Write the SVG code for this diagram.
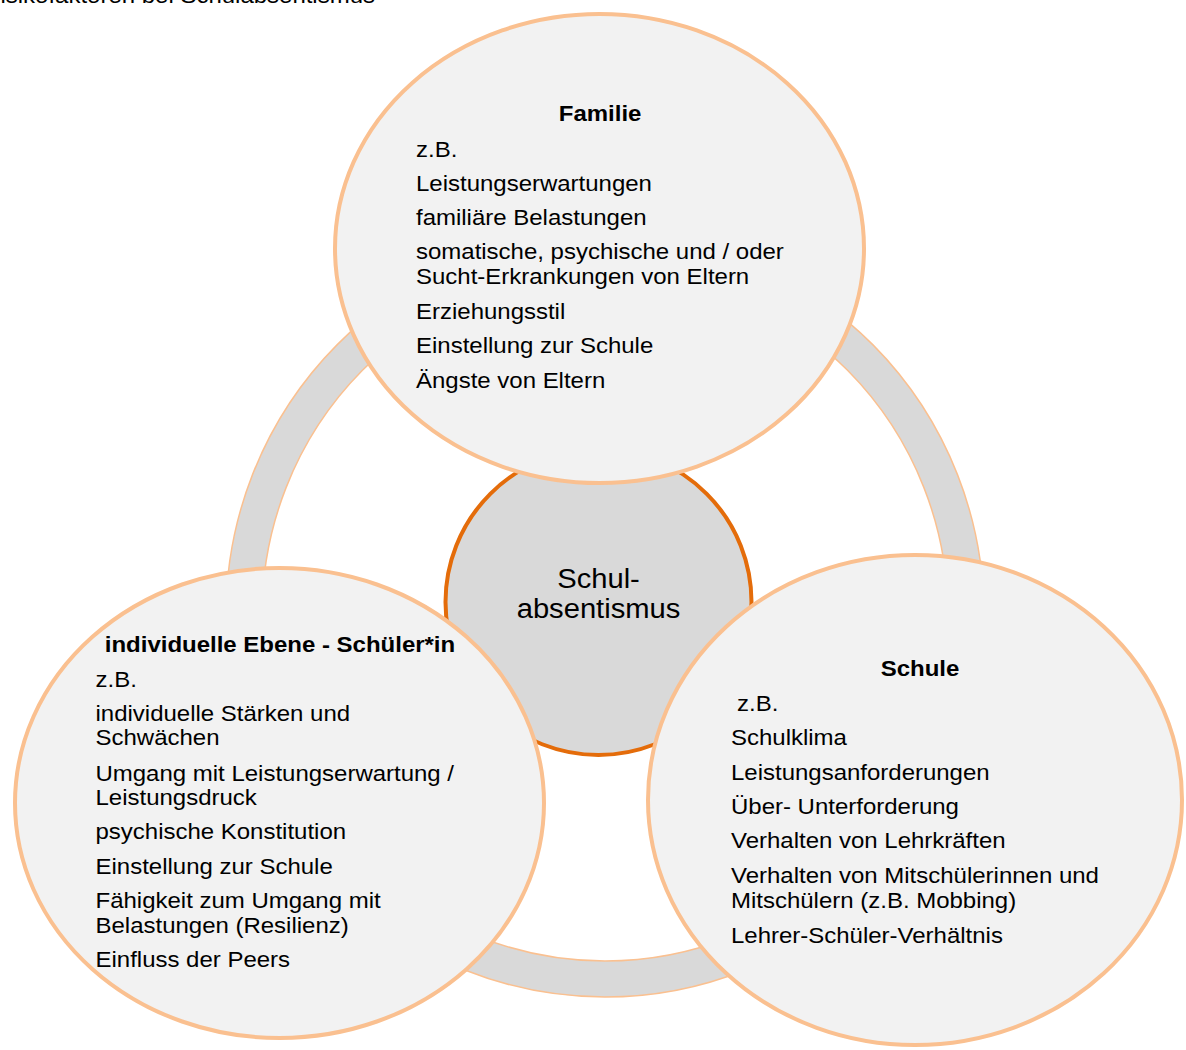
<svg xmlns="http://www.w3.org/2000/svg" width="1186" height="1050" viewBox="0 0 1186 1050">
<style>
.bg{fill:#ffffff}
.ring{fill:#D9D9D9;fill-rule:evenodd;stroke:#FAC090;stroke-width:1.5}
.outer{fill:#F2F2F2;stroke:#FAC090;stroke-width:4}
.core{fill:#D9D9D9;stroke:#E46C0A;stroke-width:4}
text{font-family:"Liberation Sans",Arial,sans-serif;fill:#000000}
.t{font-size:21.5px}
.h{font-size:21.5px;font-weight:bold;text-anchor:middle}
.c{font-size:27px;text-anchor:middle}
</style>
<rect class="bg" x="0" y="0" width="1186" height="1050"/>
<g id="title">
<text class="t" transform="translate(375 3) scale(1.116 1)" text-anchor="end" x="0" y="0">Risikofaktoren bei Schulabsentismus</text>
</g>
<g id="connectors">
<path class="ring" d="M226,615 A379,382 0 1 0 984,615 A379,382 0 1 0 226,615 Z M262,615 A343,346 0 1 0 948,615 A343,346 0 1 0 262,615 Z"/>
</g>
<g id="node-center">
<circle class="core" cx="598.5" cy="602" r="153"/>
<g transform="translate(598.5 0) scale(1.08 1)">
<text class="c" x="0" y="588">Schul-</text>
<text class="c" x="0" y="618">absentismus</text>
</g>
</g>
<g id="node-familie">
<ellipse class="outer" cx="599.5" cy="248.5" rx="264.5" ry="234.5"/>
<g transform="translate(416 0) scale(1.116 1)">
<text class="h" x="165" y="121">Familie</text>
<text class="t" x="0" y="157">z.B.</text>
<text class="t" x="0" y="191">Leistungserwartungen</text>
<text class="t" x="0" y="225">familiäre Belastungen</text>
<text class="t" x="0" y="259">somatische, psychische und / oder</text>
<text class="t" x="0" y="284">Sucht-Erkrankungen von Eltern</text>
<text class="t" x="0" y="319">Erziehungsstil</text>
<text class="t" x="0" y="353">Einstellung zur Schule</text>
<text class="t" x="0" y="388">Ängste von Eltern</text>
</g>
</g>
<g id="node-individuell">
<ellipse class="outer" cx="279.5" cy="803" rx="264.5" ry="235"/>
<g transform="translate(95.5 0) scale(1.116 1)">
<text class="h" x="165.3" y="652">individuelle Ebene - Schüler*in</text>
<text class="t" x="0" y="687">z.B.</text>
<text class="t" x="0" y="721">individuelle Stärken und</text>
<text class="t" x="0" y="745">Schwächen</text>
<text class="t" x="0" y="781">Umgang mit Leistungserwartung /</text>
<text class="t" x="0" y="805">Leistungsdruck</text>
<text class="t" x="0" y="839">psychische Konstitution</text>
<text class="t" x="0" y="874">Einstellung zur Schule</text>
<text class="t" x="0" y="908">Fähigkeit zum Umgang mit</text>
<text class="t" x="0" y="933">Belastungen (Resilienz)</text>
<text class="t" x="0" y="967">Einfluss der Peers</text>
</g>
</g>
<g id="node-schule">
<ellipse class="outer" cx="915" cy="800" rx="267" ry="245"/>
<g transform="translate(731 0) scale(1.116 1)">
<text class="h" x="169.4" y="676">Schule</text>
<text class="t" x="5.4" y="711">z.B.</text>
<text class="t" x="0" y="745">Schulklima</text>
<text class="t" x="0" y="780">Leistungsanforderungen</text>
<text class="t" x="0" y="814">Über- Unterforderung</text>
<text class="t" x="0" y="848">Verhalten von Lehrkräften</text>
<text class="t" x="0" y="883">Verhalten von Mitschülerinnen und</text>
<text class="t" x="0" y="908">Mitschülern (z.B. Mobbing)</text>
<text class="t" x="0" y="943">Lehrer-Schüler-Verhältnis</text>
</g>
</g>
</svg>
